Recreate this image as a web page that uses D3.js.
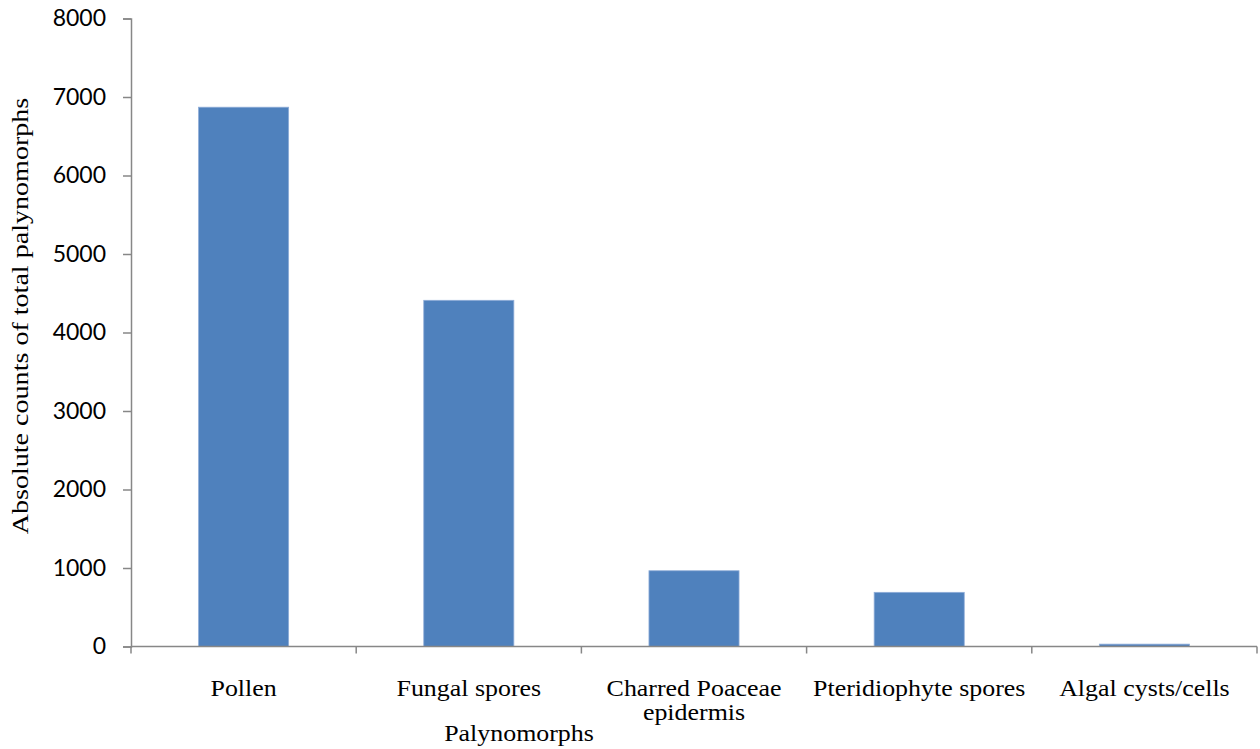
<!DOCTYPE html>
<html>
<head>
<meta charset="utf-8">
<script src="https://cdn.jsdelivr.net/npm/d3@7"></script>
<style>
  html, body { margin: 0; padding: 0; background: #fff; }
  svg { display: block; }
</style>
</head>
<body>
<svg id="chart" width="1260" height="749"></svg>
<script>
// Palynomorph totals
const categories = [
  ["Pollen"],
  ["Fungal spores"],
  ["Charred Poaceae", "epidermis"],
  ["Pteridiophyte spores"],
  ["Algal cysts/cells"]
];
const counts = [6870, 4410, 965, 690, 30];
const yTicks = [0, 1000, 2000, 3000, 4000, 5000, 6000, 7000, 8000];

const svg = d3.select("#chart");
const margin = { left: 131, right: 3, top: 18.5, bottom: 102.5 };
const W = 1260, H = 749;

const x = d3.scaleBand()
  .domain(d3.range(categories.length))
  .range([margin.left, W - margin.right])
  .paddingInner(0.6)
  .paddingOuter(0.3);

const y = d3.scaleLinear()
  .domain([0, 8000])
  .range([H - margin.bottom, margin.top]);

const axisColor = "#878787";
const serif = "'Liberation Serif', 'Times New Roman', serif";
const serifSize = 24;
const stretchX = 1.08;  // horizontal labels
const stretchY = 1.17;  // vertical axis title

// bars
svg.append("g").selectAll("rect")
  .data(counts)
  .join("rect")
  .attr("x", (d, i) => x(i))
  .attr("width", x.bandwidth())
  .attr("y", d => y(d))
  .attr("height", d => y(0) - y(d))
  .attr("fill", "#4F81BD")
  .attr("stroke", "#8FADD8")
  .attr("stroke-width", 0.8);

// y axis
const yAxis = svg.append("g")
  .attr("transform", `translate(${margin.left},0)`)
  .call(d3.axisLeft(y).tickValues(yTicks).tickSize(8).tickPadding(17).tickFormat(d3.format("d")));
yAxis.select(".domain").attr("stroke", axisColor).attr("stroke-width", 1.5);
yAxis.selectAll(".tick line").attr("stroke", axisColor).attr("stroke-width", 1.5);
yAxis.selectAll(".tick text")
  .attr("fill", "#000")
  .style("font-family", "Lato, 'Open Sans', sans-serif")
  .style("font-size", "23px");

// x axis: baseline and category separators
const xEdges = d3.range(categories.length + 1).map(i =>
  i < categories.length ? x(i) - x.step() * x.paddingOuter() : W - margin.right);
const xAxis = svg.append("g");
xAxis.append("line")
  .attr("x1", margin.left).attr("x2", W - margin.right)
  .attr("y1", y(0)).attr("y2", y(0))
  .attr("stroke", axisColor).attr("stroke-width", 1.5);
xAxis.selectAll("line.sep")
  .data(xEdges)
  .join("line")
  .attr("class", "sep")
  .attr("x1", d => d).attr("x2", d => d)
  .attr("y1", y(0)).attr("y2", y(0) + 7)
  .attr("stroke", axisColor).attr("stroke-width", 1.5);

// category labels
xAxis.selectAll("g.cat")
  .data(categories)
  .join("g")
  .attr("class", "cat")
  .attr("transform", (d, i) => `translate(${x(i) + x.bandwidth() / 2},696) scale(${stretchX},1)`)
  .each(function(lines) {
    d3.select(this).selectAll("text")
      .data(lines)
      .join("text")
      .attr("text-anchor", "middle")
      .attr("font-family", serif)
      .attr("font-size", serifSize)
      .attr("fill", "#000")
      .attr("y", (l, j) => j * 24)
      .text(l => l);
  });

// axis titles
svg.append("text")
  .attr("transform", `translate(519,741) scale(${stretchX},1)`)
  .attr("text-anchor", "middle")
  .attr("font-family", serif).attr("font-size", serifSize)
  .text("Palynomorphs");

svg.append("text")
  .attr("transform", `translate(28,316) rotate(-90) scale(${stretchY},1)`)
  .attr("text-anchor", "middle")
  .attr("font-family", serif).attr("font-size", serifSize)
  .text("Absolute counts of total palynomorphs");
</script>
</body>
</html>
